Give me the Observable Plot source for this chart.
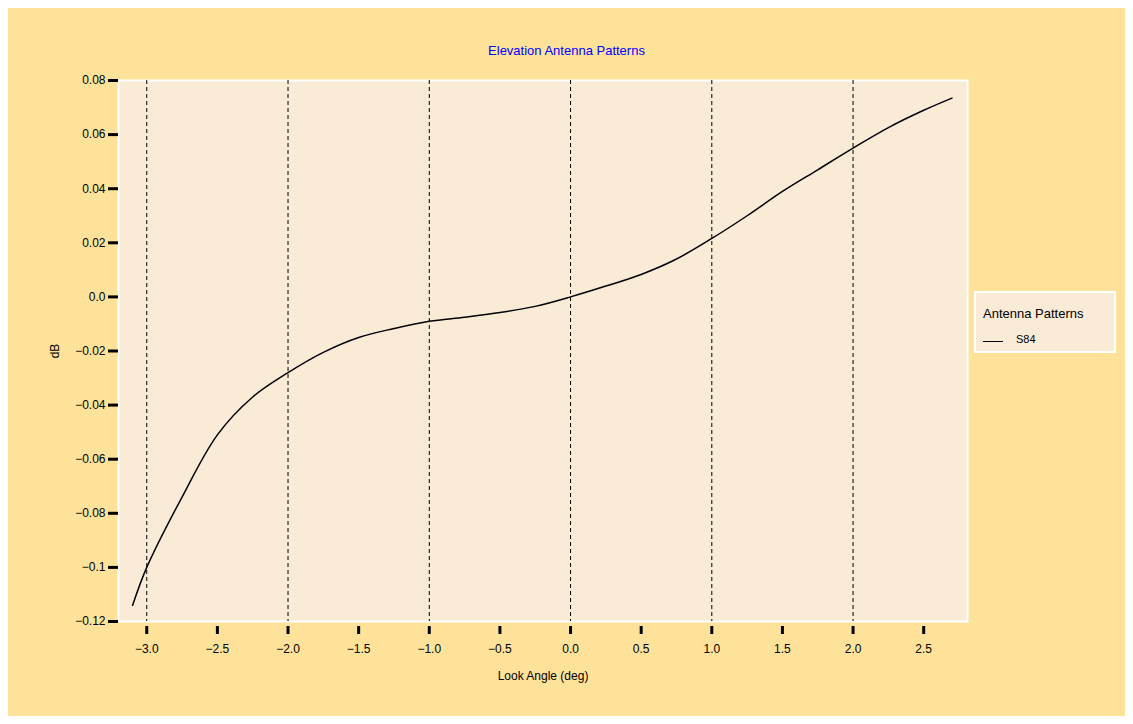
<!DOCTYPE html>
<html><head><meta charset="utf-8">
<script src="https://cdn.jsdelivr.net/npm/d3@7"></script>
<script src="https://cdn.jsdelivr.net/npm/@observablehq/plot@0.6"></script>
<style>
body{margin:0;background:#fff;font-family:"Liberation Sans",Arial,sans-serif;}
#wrap{position:relative;width:1133px;height:724px;}
#bg{position:absolute;left:8px;top:8px;width:1117px;height:708px;background:#FEE29A;}
#title{position:absolute;left:0;width:1133px;top:43px;text-align:center;color:#0000ff;font-size:13px;}
#legend{position:absolute;left:974px;top:291px;width:138px;height:58px;background:#FAEBD7;border:2px solid #fff;font-size:13px;}
#chart{position:absolute;left:0;top:0;}
</style></head><body>
<div id="wrap"><div id="bg"></div><div id="chart"></div>
<div id="title">Elevation Antenna Patterns</div>
<div id="legend"><div style="position:absolute;left:7px;top:13px">Antenna Patterns</div>
<div style="position:absolute;left:7px;top:48px;width:20px;border-top:1px solid #000"></div>
<div style="position:absolute;left:40px;top:40px;font-size:11px">S84</div></div>
</div>
<script>
const angles=[-3.1,-3.0,-2.75,-2.5,-2.25,-2.0,-1.75,-1.5,-1.25,-1.0,-0.75,-0.5,-0.25,0,0.25,0.5,0.75,1.0,1.25,1.5,1.75,2.0,2.25,2.5,2.7];
const dB=[-0.114,-0.100,-0.074,-0.051,-0.037,-0.028,-0.0205,-0.015,-0.0117,-0.009,-0.0075,-0.0058,-0.0035,0,0.004,0.0083,0.014,0.0216,0.030,0.039,0.047,0.055,0.0626,0.069,0.0735];
const xTicks=[-3.0,-2.5,-2.0,-1.5,-1.0,-0.5,0.0,0.5,1.0,1.5,2.0,2.5];
const yTicks=[-0.12,-0.1,-0.08,-0.06,-0.04,-0.02,0.0,0.02,0.04,0.06,0.08];
const gridX=[-3,-2,-1,0,1,2];
const data=angles.map((a,i)=>({a,v:dB[i]}));
const fmtY=d=>(d===0?"0.0":(Math.abs(d*100)%10===0&&Math.abs(d)>=0.1?d3.format(".1f")(d):d3.format(".2f")(d))).replace("-","\u2212");
const p=Plot.plot({
 width:1133,height:724,marginLeft:118,marginRight:166,marginTop:80,marginBottom:103,
 style:{background:"transparent",fontSize:"12px",fontFamily:"Liberation Sans, Arial, sans-serif",color:"#000"},
 x:{domain:[-3.2,2.81]},y:{domain:[-0.12,0.08]},
 marks:[
  Plot.frame({fill:"#FAEBD7",stroke:"#fff",strokeWidth:2}),
  Plot.ruleX(gridX,{stroke:"#000",strokeDasharray:"4,3"}),
  Plot.line(data,{x:"a",y:"v",curve:"catmull-rom",stroke:"#000"}),
  Plot.axisX({ticks:xTicks,tickSize:8,tickPadding:10,dy:5,tickFormat:d=>d3.format(".1f")(d).replace("-","\u2212"),strokeWidth:3,label:null}),
  Plot.axisX({ticks:[],label:"Look Angle (deg)",labelAnchor:"center",labelArrow:"none",labelOffset:58}),
  Plot.axisY({ticks:yTicks,tickSize:10,tickPadding:3,tickFormat:fmtY,strokeWidth:3,label:"dB",labelAnchor:"center",labelArrow:"none",labelOffset:68})
 ]});
document.getElementById("chart").appendChild(p);
</script></body></html>
